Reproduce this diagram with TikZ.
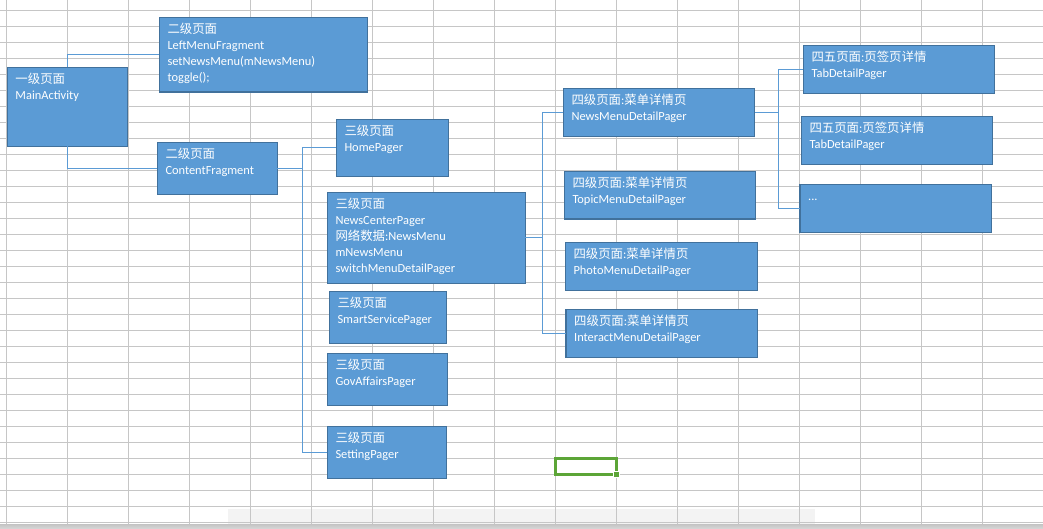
\documentclass[tikz,border=0pt]{standalone}
\usepackage{fontspec}
\setmainfont{Carlito}
\newfontfamily\cjk{Noto Sans CJK SC}
\newcommand\zh[1]{{\cjk #1}}
\definecolor{boxfill}{HTML}{5B9BD5}
\definecolor{boxline}{HTML}{41719C}
\definecolor{connc}{HTML}{5B9BD5}
\definecolor{gridc}{HTML}{C6C6C6}
\definecolor{selg}{HTML}{5CA537}
\definecolor{bandc}{HTML}{F3F3F3}
\newcommand\pbox[6]{%
  \node[box, minimum width={#4-#2}, minimum height={#5-#3}, anchor=north west] (#1) at (#2,#3) {};
  \node[txt] (#1-t) at ({#2+8},{#3+4}) {\rule{0pt}{12pt}#6};}
\begin{document}
\begin{tikzpicture}[x=1pt,y=-1pt,
  box/.style={draw=boxline, line width=1.3pt, fill=boxfill, inner sep=0pt, outer sep=0pt, rectangle},
  txt/.style={text=white, inner sep=0pt, align=left, anchor=north west, font=\fontsize{12.4}{16}\selectfont},
  conn/.style={draw=connc, line width=1.3pt},
  gridline/.style={draw=gridc, line width=1pt}]
\useasboundingbox (0,0) rectangle (1043,529);
\fill[white] (0,0) rectangle (1043,529);
% bottom band
\fill[bandc] (228,509) rectangle (815,524);
% grid
\foreach \i in {0,...,16} \draw[gridline] ({6.5+61*\i},0) -- ({6.5+61*\i},529);
\foreach \j in {0,...,32} \draw[gridline] (0,{10.7+16*\j}) -- (1043,{10.7+16*\j});
\shade[top color=gray!45, bottom color=gray!30] (0,524.5) rectangle (1043,529);
% boxes
\pbox{main}{7.3}{67.3}{127.7}{146.3}{\zh{一级页面}\\MainActivity}
\pbox{left}{159.3}{17.3}{367.3}{92}{\zh{二级页面}\\LeftMenuFragment\\setNewsMenu(mNewsMenu)\\toggle();}
\pbox{content}{157.3}{142.7}{277.3}{194.3}{\zh{二级页面}\\ContentFragment}
\pbox{home}{336.3}{119.3}{448.7}{176.3}{\zh{三级页面}\\HomePager}
\pbox{news}{327.3}{192.3}{525.3}{283.3}{\zh{三级页面}\\NewsCenterPager\\\zh{网络数据}:NewsMenu\\mNewsMenu\\switchMenuDetailPager}
\pbox{smart}{329.3}{291.3}{446.3}{343.3}{\zh{三级页面}\\SmartServicePager}
\pbox{gov}{327.3}{353.3}{447.3}{405.3}{\zh{三级页面}\\GovAffairsPager}
\pbox{setting}{327.3}{426.3}{446.3}{478.3}{\zh{三级页面}\\SettingPager}
\pbox{nmd}{563.3}{88.3}{754.7}{136.3}{\zh{四级页面}:\zh{菜单详情页}\\NewsMenuDetailPager}
\pbox{tmd}{564.3}{171.3}{755.7}{219}{\zh{四级页面}:\zh{菜单详情页}\\TopicMenuDetailPager}
\pbox{pmd}{565.3}{242.3}{757.3}{290.3}{\zh{四级页面}:\zh{菜单详情页}\\PhotoMenuDetailPager}
\pbox{imd}{566}{309.3}{757.7}{357.3}{\zh{四级页面}:\zh{菜单详情页}\\InteractMenuDetailPager}
\pbox{tab1}{803.3}{45.3}{994.7}{93.3}{\zh{四五页面}:\zh{页签页详情}\\TabDetailPager}
\pbox{tab2}{801.3}{116.3}{992.3}{164.3}{\zh{四五页面}:\zh{页签页详情}\\TabDetailPager}
\pbox{more}{800}{184.3}{991.3}{232.3}{...}
% connectors
\coordinate (s1) at (302.3,168.5);
\coordinate (s2) at (542.3,237.8);
\coordinate (s3) at (778.3,112.3);
\draw[conn] (main.north) |- (left.west);
\draw[conn] (main.south) |- (content.west);
\draw[conn] (content.east) -- (s1);
\draw[conn] (home.west) -| (s1) |- (setting.west);
\draw[conn] (news.east) -- (s2);
\draw[conn] (nmd.west) -| (s2) |- (imd.west);
\draw[conn] (nmd.east) -- (s3);
\draw[conn] (tab1.west) -| (s3) |- (more.west);
% selected cell
\draw[selg, line width=2.6pt] (555.3,458.3) rectangle (616.7,474.3);
\fill[white] (613,470.6) rectangle (620.4,478);
\fill[selg] (614.2,471.8) rectangle (619.2,476.8);
\end{tikzpicture}
\end{document}
